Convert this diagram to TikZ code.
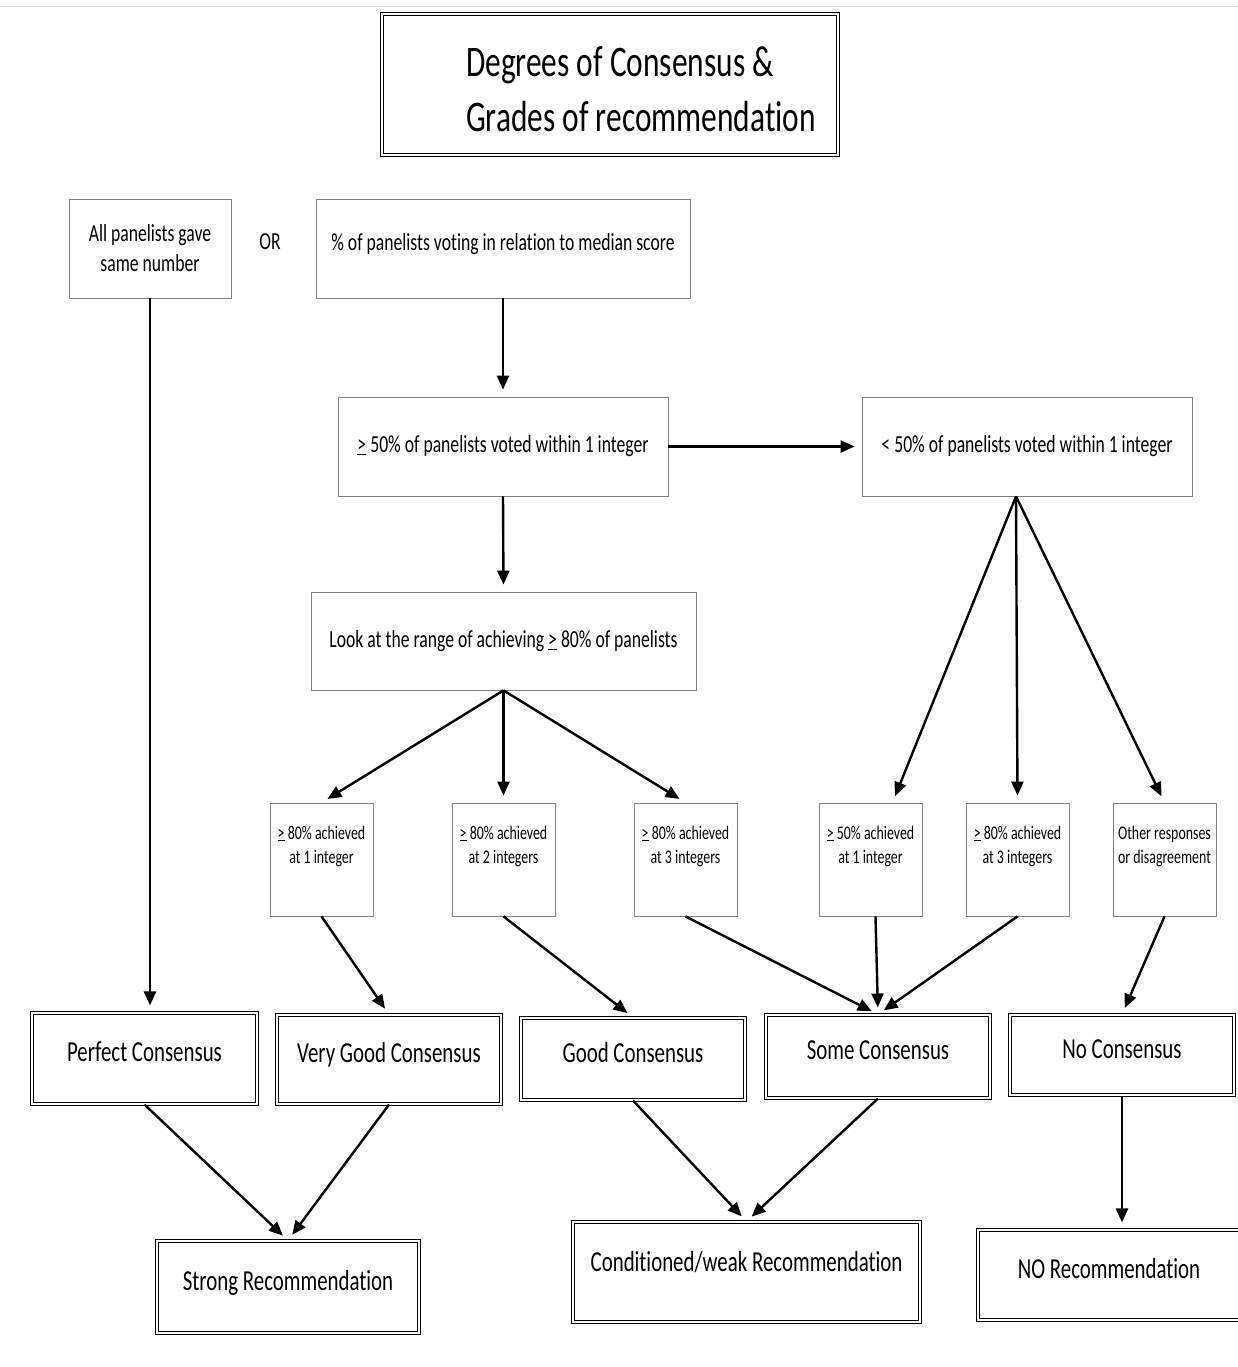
\documentclass[tikz,border=0pt]{standalone}
\usepackage{fontspec}
\setmainfont{Carlito}[FakeStretch=0.72, Ligatures=NoCommon]
\usetikzlibrary{arrows.meta,calc}
\definecolor{FrameGray}{HTML}{7F7F7F}
\definecolor{EdgeGray}{HTML}{D9D9D9}

\begin{document}
\begin{tikzpicture}[x=1pt,y=-1pt,
    thinbox/.style={draw=FrameGray, line width=0.8pt, align=center, inner sep=0pt,
      font=\fontsize{24.5}{30}\selectfont},
    smallbox/.style={draw=FrameGray, line width=0.8pt, align=center, inner sep=0pt,
      minimum width=103pt, minimum height=113pt, text depth=30pt,
      font=\fontsize{19.3}{24}\selectfont},
    consbox/.style={draw=black, double, double distance=2pt, line width=1.1pt,
      align=center, inner sep=0pt, text height=20pt, text depth=14pt,
      font=\fontsize{29}{35}\selectfont},
    flow/.style={line width=2.4pt, -{Triangle[length=14pt,width=12pt]}, shorten >=7pt}
  ]
  \useasboundingbox (0,0) rectangle (1238,1367);
  \draw[EdgeGray] (0,6) -- (1238,6);

  % title
  \node[draw=black, double, double distance=2pt, line width=1.4pt,
    minimum width=456pt, minimum height=141pt] (title) at (610,84.5) {};
  \node[align=left, inner sep=0pt, font=\fontsize{43.6}{55}\selectfont] (titletext)
    at (641,89) {Degrees of Consensus \&\\Grades of recommendation};

  % upper part
  \node[thinbox, minimum width=162pt, minimum height=99pt] (all) at (150,248.5)
    {All panelists gave\\same number};
  \node[font=\fontsize{24.5}{30}\selectfont, inner sep=0pt] (or) at (270,242) {OR};
  \node[thinbox, minimum width=374pt, minimum height=99pt, text depth=14pt] (pct) at (503,248.5)
    {\% of panelists voting in relation to median score};
  \node[thinbox, minimum width=330pt, minimum height=99pt] (ge) at (503,446.5)
    {\underline{>}\,50\% of panelists voted within 1 integer};
  \node[thinbox, minimum width=330pt, minimum height=99pt] (lt) at (1027,446.5)
    {<\,50\% of panelists voted within 1 integer};
  \node[thinbox, minimum width=385pt, minimum height=98pt] (look) at (503.5,641)
    {Look at the range of achieving \underline{>}\,80\% of panelists};

  % criteria
  \node[smallbox] (s1) at (321.5,859.5) {\underline{>}\,80\% achieved\\at 1 integer};
  \node[smallbox] (s2) at (503.5,859.5) {\underline{>}\,80\% achieved\\at 2 integers};
  \node[smallbox] (s3) at (685.5,859.5) {\underline{>}\,80\% achieved\\at 3 integers};
  \node[smallbox] (s4) at (870.5,859.5) {\underline{>}\,50\% achieved\\at 1 integer};
  \node[smallbox] (s5) at (1017.5,859.5) {\underline{>}\,80\% achieved\\at 3 integers};
  \node[smallbox] (s6) at (1164.5,859.5) {Other responses\\or disagreement};

  % degrees of consensus
  \node[consbox, minimum width=225pt, minimum height=91pt] (perf) at (144.5,1058.5) {Perfect Consensus};
  \node[consbox, minimum width=224pt, minimum height=89pt] (vg) at (389,1059.5) {Very Good Consensus};
  \node[consbox, minimum width=224pt, minimum height=82pt] (good) at (633,1059) {Good Consensus};
  \node[consbox, minimum width=224pt, minimum height=83pt] (some) at (878,1056.5) {Some Consensus};
  \node[consbox, minimum width=224pt, minimum height=80pt] (no) at (1122,1055) {No Consensus};

  % grades of recommendation
  \node[consbox, minimum width=262pt, minimum height=92pt] (strong) at (288,1287) {Strong Recommendation};
  \node[consbox, minimum width=347pt, minimum height=100pt, text depth=22pt] (cond) at (746.5,1272)
    {Conditioned/weak Recommendation};
  \node[consbox, minimum width=262pt, minimum height=90pt] (norec) at (1109,1275) {NO Recommendation};

  % connectors
  \draw[flow] (all.south) -- (all.south |- perf.north);
  \draw[flow] (pct.south) -- (ge.north);
  \draw[flow] (ge.east) -- (lt.west);
  \draw[flow] (ge.south) -- (look.north);
  \draw[flow] (look.south) -- (s1.north);
  \draw[flow] (look.south) -- (s2.north);
  \draw[flow] (look.south) -- (s3.north);
  \draw[flow] ([xshift=-11pt]lt.south) -- ([xshift=22pt]s4.north);
  \draw[flow] ([xshift=-11pt]lt.south) -- (s5.north);
  \draw[flow] ([xshift=-11pt]lt.south) -- (s6.north);
  \draw[flow] (s1.south) -- (vg.north);
  \draw[flow] (s2.south) -- (good.north);
  \draw[flow] (s3.south) -- (some.north);
  \draw[flow] ([xshift=5pt]s4.south) -- (some.north);
  \draw[flow] (s5.south) -- (some.north);
  \draw[flow] (s6.south) -- (no.north);
  \draw[flow] (perf.south) -- (strong.north);
  \draw[flow] (vg.south) -- (strong.north);
  \draw[flow] (good.south) -- (cond.north);
  \draw[flow] (some.south) -- (cond.north);
  \draw[flow] (no.south) -- (no.south |- norec.north);
\end{tikzpicture}
\end{document}
